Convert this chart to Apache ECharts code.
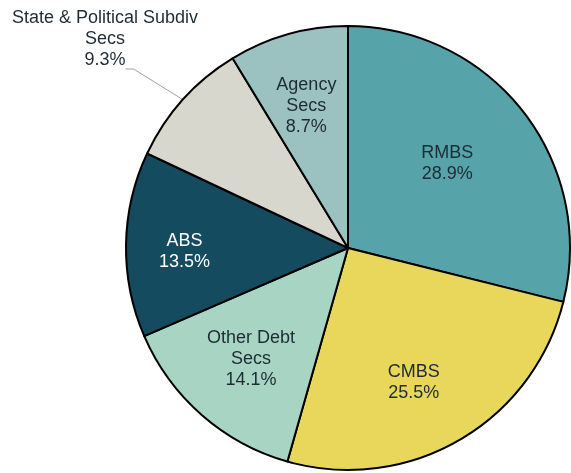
<!DOCTYPE html>
<html>
<head>
<meta charset="utf-8">
<script src="https://cdn.jsdelivr.net/npm/echarts@6/dist/echarts.min.js"></script>
<style>
  html, body { margin: 0; padding: 0; background: #fff; }
  #chart { width: 571px; height: 473px; }
</style>
</head>
<body>
<div id="chart"></div>
<script>
// slices, clockwise from 12 o'clock
var names = ['RMBS', 'CMBS', 'Other Debt\nSecs', 'ABS', 'State & Political Subdiv\nSecs', 'Agency\nSecs']
var values = [28.9, 25.5, 14.1, 13.5, 9.3, 8.7]
var colors = ['#56a4a9', '#e8d75b', '#a8d4c3', '#144b5e', '#d7d7cd', '#9bc1c1']
var textColors = ['#1e2b35', '#1e2b35', '#1e2b35', '#ffffff', '#1e2b35', '#1e2b35']
// inside labels: distance from centre (share of radius) and a small turn (degrees)
var labelRadius = [0.575, 0.662, 0.65, 0.723, 0, 0.653]
var labelTurn = [-2.6, 4.1, 0, -2, 0, -0.7]

var cx = 348, cy = 248, R = 222
var total = values.reduce(function (a, b) { return a + b }, 0)

// mid angle of each slice (degrees, clockwise from top)
var midAngles = []
var acc = 0
for (var i = 0; i < values.length; i++) {
  midAngles.push((acc + values[i] / 2) / total * 360)
  acc += values[i]
}

var data = []
var guideData = []
for (var i = 0; i < values.length; i++) {
  data.push({
    value: values[i],
    name: names[i],
    itemStyle: { color: colors[i] },
    label: { color: textColors[i] }
  })
  guideData.push({
    value: values[i],
    name: names[i],
    label: { show: i === 4 },
    labelLine: { show: i === 4 }
  })
}

var labelFont = {
  fontFamily: 'Liberation Sans, Arial, sans-serif',
  fontSize: 18,
  lineHeight: 21
}

var myChart = echarts.init(document.getElementById('chart'))
var option = {
  animation: false,
  series: [{
    type: 'pie',
    center: [cx, cy],
    radius: [0, R],
    startAngle: 90,
    clockwise: true,
    avoidLabelOverlap: false,
    itemStyle: { borderColor: '#000', borderWidth: 2 },
    label: Object.assign({
      show: true,
      position: 'inside',
      align: 'center',
      formatter: function (p) { return p.name + '\n' + p.value.toFixed(1) + '%' }
    }, labelFont),
    labelLine: { show: false },
    labelLayout: function (params) {
      var k = params.dataIndex
      if (k === 4) {
        return { x: 105, y: 39, align: 'center', verticalAlign: 'middle' }
      }
      var a = (midAngles[k] + labelTurn[k]) * Math.PI / 180
      var a0 = midAngles[k] * Math.PI / 180
      var r = labelRadius[k] * R
      return {
        dx: r * Math.sin(a) - R / 2 * Math.sin(a0),
        dy: -r * Math.cos(a) + R / 2 * Math.cos(a0)
      }
    },
    data: data
  }, {
    // transparent copy that only carries the leader line of the small outside label
    type: 'pie',
    center: [cx, cy],
    radius: [0, R],
    startAngle: 90,
    clockwise: true,
    silent: true,
    avoidLabelOverlap: false,
    itemStyle: { color: 'rgba(0,0,0,0)' },
    label: { position: 'outside', formatter: ' ', fontSize: 2 },
    labelLine: { length: 50, length2: 8, lineStyle: { color: '#a0a0a0', width: 1 } },
    labelLayout: function (params) {
      return { x: 125, y: 69, align: 'left', verticalAlign: 'middle' }
    },
    data: guideData
  }]
}
myChart.setOption(option)
</script>
</body>
</html>
